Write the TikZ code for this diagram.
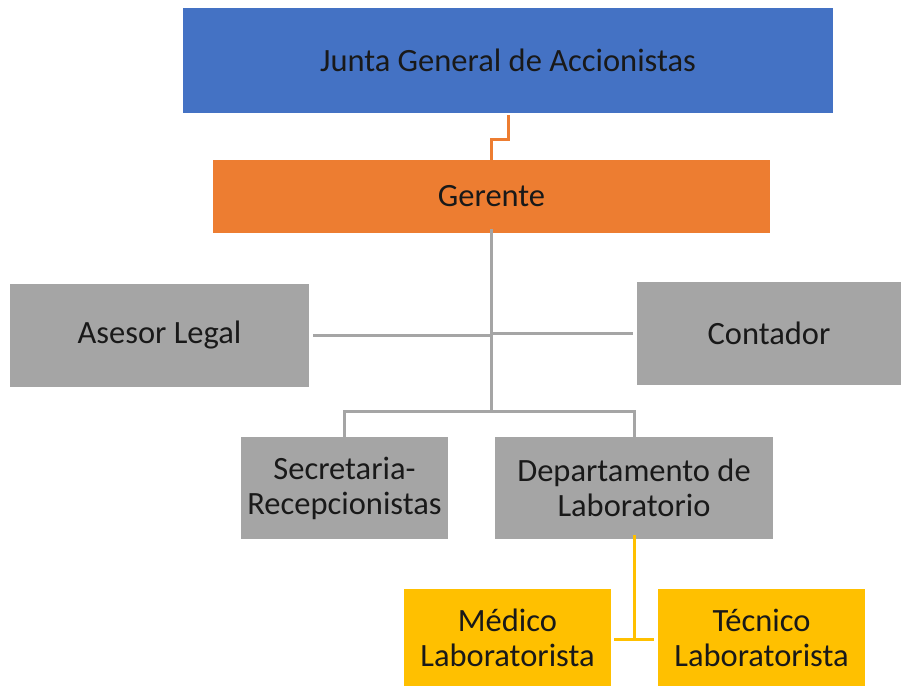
\documentclass[tikz,border=0pt]{standalone}
\usepackage{fontspec}
\setmainfont{Carlito}
\definecolor{jblue}{HTML}{4472C4}
\definecolor{gorange}{HTML}{ED7D31}
\definecolor{mgray}{HTML}{A5A5A5}
\definecolor{lyellow}{HTML}{FFC000}
\begin{document}
\begin{tikzpicture}[x=1pt,y=-1pt,
  box/.style={rectangle,inner sep=0pt,align=center,text=black!90,
    font=\fontsize{32.5}{35}\selectfont},
  link/.style={line width=3pt}]
\useasboundingbox (0,0) rectangle (902,686);

\node[box,fill=jblue,minimum width=650pt,minimum height=105pt] (junta) at (508,60.5) {Junta General de Accionistas};
\node[box,fill=gorange,minimum width=557pt,minimum height=73pt] (gerente) at (491.5,196.5) {Gerente};
\node[box,fill=mgray,minimum width=299pt,minimum height=103pt] (asesor) at (159.5,335.5) {Asesor Legal};
\node[box,fill=mgray,minimum width=264pt,minimum height=103pt] (contador) at (769,333.5) {Contador};
\node[box,fill=mgray,minimum width=207pt,minimum height=102pt] (secre) at (344.5,488) {Secretaria-\\Recepcionistas};
\node[box,fill=mgray,minimum width=278pt,minimum height=102pt] (depto) at (634,488) {Departamento de\\Laboratorio};
\node[box,fill=lyellow,minimum width=207pt,minimum height=97pt] (medico) at (507.5,637.5) {Médico\\Laboratorista};
\node[box,fill=lyellow,minimum width=207pt,minimum height=97pt] (tecnico) at (761.5,637.5) {Técnico\\Laboratorista};

\coordinate (hub) at (491.5,411);
\coordinate (lab) at (634,639);

\draw[link,gorange] ([yshift=-2pt]junta.south) -- ++(0,24) -| ([yshift=-3pt]gerente.north);
\draw[link,mgray] ([yshift=4pt]gerente.south) -- (hub);
\draw[link,mgray] ([xshift=4pt]asesor.east) -- (gerente.south |- asesor.east);
\draw[link,mgray] ([xshift=-4pt]contador.west) -- (gerente.south |- contador.west);
\draw[link,mgray] ([yshift=-4pt]secre.north) |- (hub) -| ([yshift=-4pt]depto.north);
\draw[link,lyellow] ([yshift=4pt]depto.south) -- (lab);
\draw[link,lyellow] ([xshift=-20pt]lab) -- ([xshift=20pt]lab);
\end{tikzpicture}
\end{document}
